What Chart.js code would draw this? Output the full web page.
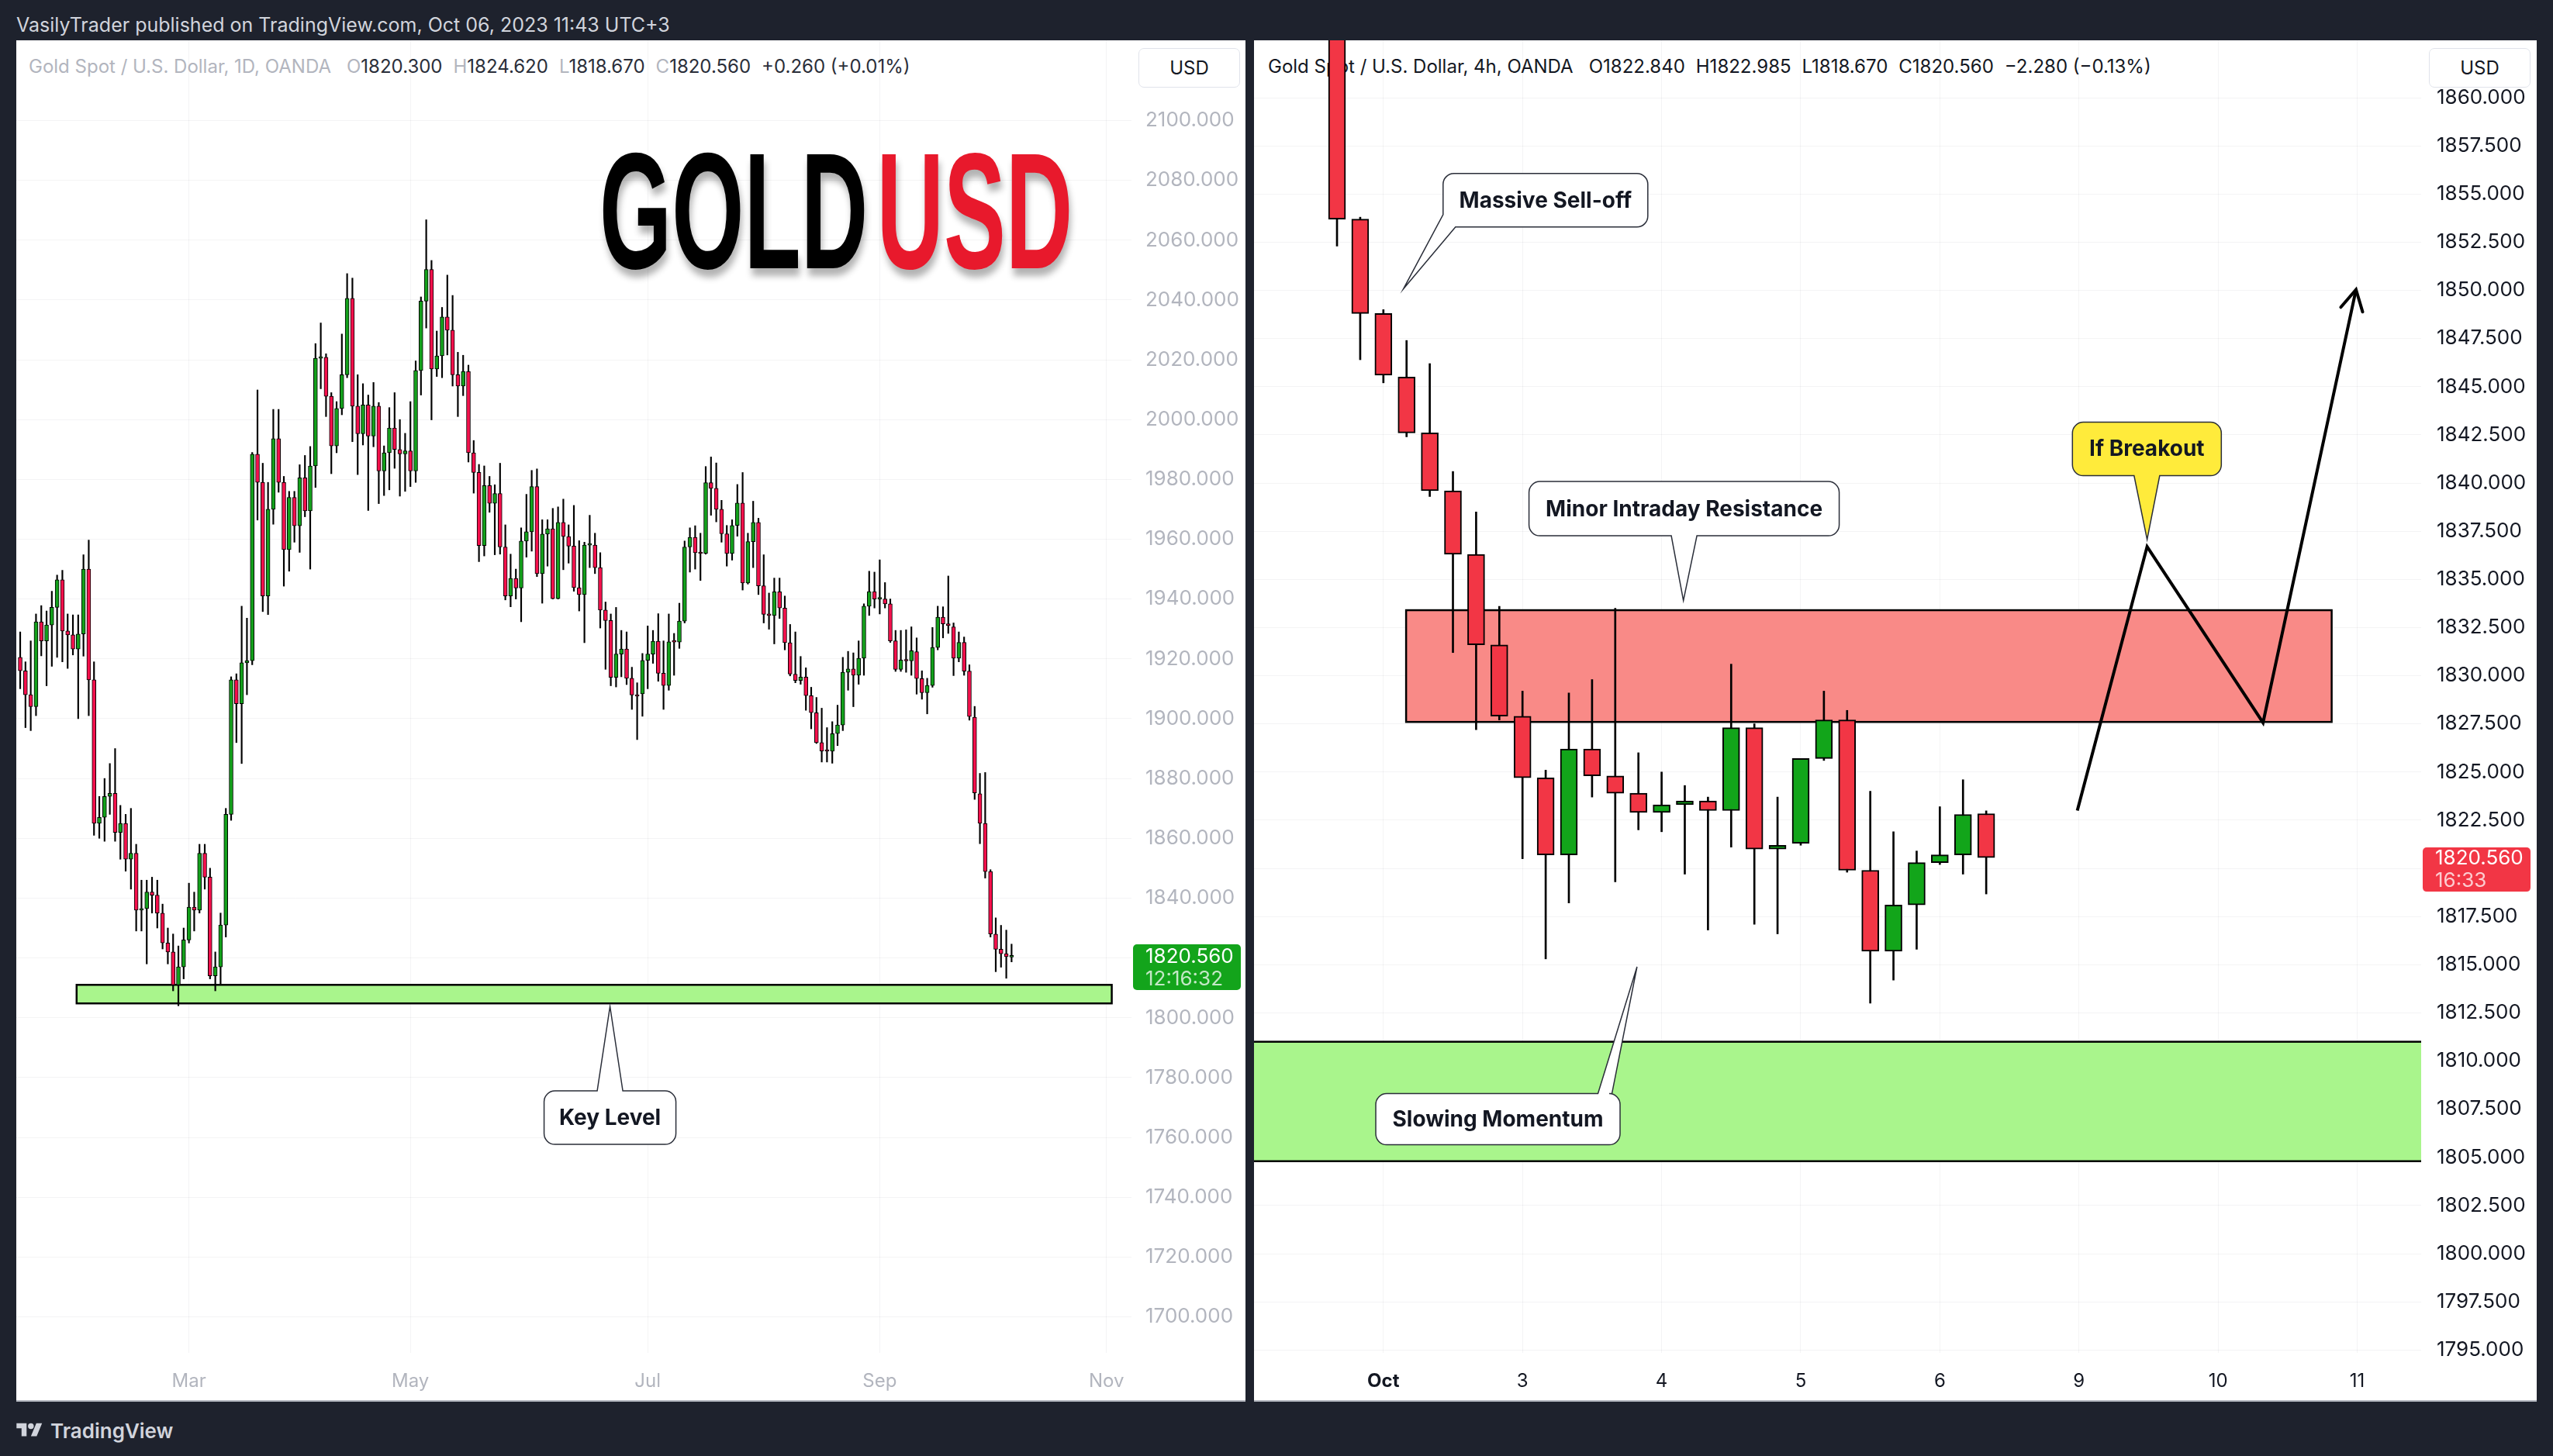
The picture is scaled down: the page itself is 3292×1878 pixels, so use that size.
<!DOCTYPE html>
<html lang="en">
<head>
<meta charset="utf-8">
<title>Gold Spot / U.S. Dollar</title>
<script src="https://cdn.jsdelivr.net/npm/chart.js@4.4.1/dist/chart.umd.min.js"></script>
<style>
html, body { margin: 0; padding: 0; }
body { width: 3292px; height: 1878px; background: #1e222d; position: relative; overflow: hidden; font-family: Inter, "Noto Sans", sans-serif; }
#header { position: absolute; left: 21px; top: 17px; font-size: 25px; line-height: 30px; color: #d1d4dc; white-space: nowrap; }
.panel { position: absolute; top: 52px; height: 1756px; background: #fff; overflow: hidden; }
#leftPanel { left: 21px; width: 1585px; }
#rightPanel { left: 1617px; width: 1654px; }
.panel canvas { position: absolute; left: 0; top: 0; z-index: 2; }
.baseLine { position: absolute; left: 0; right: 0; bottom: 0; height: 2px; background: #b2b5be; z-index: 3; }
.legend { position: absolute; top: 19px; font-size: 24px; line-height: 30px; white-space: nowrap; z-index: 1; }
.legend span { margin-left: 14px; }
.legend span.ttl { margin-left: 0; margin-right: 6px; }
.legend i { font-style: normal; }
#legL { left: 16px; color: #2a2e39; }
#legL .ttl, #legL i { color: #b2b5be; }
#legR { left: 18px; color: #131722; }
.curBox { position: absolute; top: 10px; width: 131px; height: 51px; border: 1px solid #e0e3eb; border-radius: 7px; background: #fff; font-size: 24px; line-height: 49px; text-align: center; color: #131722; z-index: 3; box-sizing: border-box; }
#curL { left: 1447px; }
#curR { left: 1515px; }
#bigTitle { position: absolute; left: 752px; top: 113px; font-family: "Liberation Sans Narrow", "Liberation Sans", sans-serif; font-weight: 700; font-size: 214px; line-height: 214px; white-space: nowrap; transform-origin: 0 0; transform: scaleX(0.56); text-shadow: 4px 10px 12px rgba(0,0,0,0.3); color: #000; z-index: 3; }
#bigTitle .red { color: #e8192c; margin-left: 20px; }
#footer { position: absolute; left: 21px; top: 1828px; height: 34px; display: flex; align-items: center; color: #d1d4dc; font-size: 26px; font-weight: 600; }
#footer svg { margin-right: 10px; }
</style>
</head>
<body>
<div id="header">VasilyTrader published on TradingView.com, Oct 06, 2023 11:43 UTC+3</div>

<div class="panel" id="leftPanel">
  <div class="legend" id="legL"><span class="ttl">Gold Spot / U.S. Dollar, 1D, OANDA</span><span><i>O</i>1820.300</span><span><i>H</i>1824.620</span><span><i>L</i>1818.670</span><span><i>C</i>1820.560</span><span>+0.260 (+0.01%)</span></div>
  <canvas id="chartDay" width="1585" height="1756" style="width:1585px;height:1756px"></canvas>
  <div class="curBox" id="curL">USD</div>
  <div id="bigTitle">GOLD<span class="red">USD</span></div>
  <div class="baseLine"></div>
</div>

<div class="panel" id="rightPanel">
  <div class="legend" id="legR"><span class="ttl">Gold Spot / U.S. Dollar, 4h, OANDA</span><span>O1822.840</span><span>H1822.985</span><span>L1818.670</span><span>C1820.560</span><span>−2.280 (−0.13%)</span></div>
  <canvas id="chartH4" width="1654" height="1756" style="width:1654px;height:1756px"></canvas>
  <div class="curBox" id="curR">USD</div>
  <div class="baseLine"></div>
</div>

<div id="footer">
  <svg width="34" height="26" viewBox="0 0 36 28"><path fill="#d1d4dc" d="M14 22H7V11H0V4h14v18zM28 22h-8l7.5-18h8L28 22z"/><circle cx="20" cy="8" r="4" fill="#d1d4dc"/></svg>
  TradingView
</div>

<script>
Chart.defaults.font.family = 'Inter, "Noto Sans", sans-serif';

// daily bars, index 0 = Jan 16 2023 ... index 188 = Oct 6 2023
const dayOpen = [
  1920.5, 1916, 1908, 1904, 1932.4, 1926, 1931.3, 1937.2, 1946.4, 1929.3,
  1928, 1923.3, 1928.3, 1950, 1913, 1865, 1867, 1874, 1875, 1862,
  1865, 1853, 1855, 1836, 1836.5, 1842, 1841, 1835, 1825, 1822,
  1811, 1817, 1826, 1837, 1836, 1855, 1847, 1814, 1817, 1831,
  1868, 1913, 1905, 1918.7, 1919.4, 1988.4, 1979, 1941, 1970, 1993.6,
  1979, 1956.5, 1974, 1964.5, 1980.5, 1969.5, 1984.5, 2020.5, 2020.8, 2007.8,
  1991.2, 2003.7, 2015, 2040.5, 2004.5, 1995.3, 2004.9, 1994.5, 2004.5, 1982.8,
  1988.9, 1997.2, 1990, 1988.5, 1989.5, 1982.8, 2016.4, 2039.6, 2050.2, 2016.9,
  2021.3, 2034.3, 2029.9, 2015, 2011.2, 2016.1, 1988.9, 1982.3, 1957.9, 1977.9,
  1972, 1975.3, 1957.4, 1941, 1946.9, 1943.7, 1959.4, 1962.5, 1977.6, 1948.5,
  1961.7, 1963.5, 1940.1, 1965.6, 1960.9, 1957.7, 1943.8, 1941.5, 1958, 1958,
  1950.5, 1936.3, 1932.8, 1913.8, 1921.6, 1923.3, 1913.5, 1907.9, 1908.3, 1919.5,
  1921.6, 1925.9, 1915.2, 1911.1, 1925.7, 1925.6, 1932.6, 1957.4, 1960.6, 1955.5,
  1955.2, 1978.9, 1977, 1970, 1961.8, 1955.2, 1964.6, 1972.1, 1945.4, 1959.2,
  1965.6, 1944.4, 1934.9, 1934.5, 1942.4, 1937, 1925.4, 1914.9, 1912.8, 1913.9,
  1907.7, 1902, 1892, 1889.2, 1889.1, 1895, 1897.9, 1915.5, 1916.6, 1914.5,
  1920.2, 1937.6, 1942.5, 1940, 1940, 1938.4, 1926, 1916.5, 1919.6, 1919.3,
  1922.4, 1913.4, 1908.7, 1911.1, 1923.8, 1933.9, 1931.7, 1930.7, 1920.2, 1925.5,
  1915.9, 1900.5, 1874.9, 1865, 1848.9, 1828, 1822.9, 1821.4, 1820.3
];
const dayHigh = [
  1929, 1919, 1926, 1935, 1937.8, 1936, 1942.6, 1948, 1949.6, 1935,
  1934.7, 1934.7, 1954.8, 1959.7, 1919, 1874, 1880, 1885, 1890, 1871,
  1868, 1870, 1858, 1846, 1846, 1847, 1846, 1838, 1830, 1828,
  1824, 1830, 1845, 1842, 1858, 1858, 1850, 1822, 1835, 1870,
  1914, 1915, 1937.6, 1933.6, 1989, 2009.9, 1985.4, 1979, 2003.4, 2003.4,
  1981, 1976, 1976, 1984.9, 1988, 1991, 2025.4, 2032.3, 2022, 2009,
  2006, 2028.6, 2048.8, 2047.3, 2015, 2012, 2008.2, 2012.4, 2005.7, 1991.2,
  2004, 2009, 2000, 1995.4, 2006, 2019.6, 2041, 2066.8, 2053.2, 2029.6,
  2037.5, 2048.3, 2041.5, 2022.5, 2021.5, 2018.2, 1993, 1985, 1984.5, 1981,
  1978.2, 1985.4, 1964.8, 1955, 1950, 1963.8, 1975, 1983, 1983.5, 1966.5,
  1966.5, 1970.3, 1970.8, 1973.4, 1964.8, 1971.3, 1959.5, 1959, 1968, 1962,
  1955.5, 1939, 1935, 1937.2, 1929.5, 1929, 1917.2, 1912, 1921.8, 1931,
  1929.5, 1935.1, 1926, 1935, 1928.5, 1938.6, 1959.4, 1963.8, 1964.5, 1962,
  1984.3, 1987.5, 1985.5, 1973, 1964.6, 1966.5, 1978.3, 1982.3, 1962, 1972.7,
  1967, 1954.8, 1942, 1947, 1947, 1941, 1931.5, 1929, 1920.8, 1917,
  1910.5, 1907.1, 1903.5, 1897, 1899, 1904.5, 1920.5, 1922.5, 1922, 1926,
  1938.4, 1949.3, 1949, 1953.1, 1945.5, 1940, 1929.5, 1929.5, 1929.7, 1930.7,
  1927, 1916, 1913.5, 1930.5, 1937.6, 1937.4, 1947.7, 1932, 1929, 1927.3,
  1918, 1904.1, 1881.7, 1882, 1849.5, 1833.4, 1830.9, 1829.3, 1824.62
];
const dayLow = [
  1910, 1897, 1896, 1901, 1921, 1911, 1917.5, 1920.5, 1919, 1916.8,
  1921.3, 1900, 1920.9, 1901, 1861, 1860, 1859, 1868, 1859, 1853,
  1849, 1843, 1829, 1829, 1818, 1835, 1830, 1823, 1818, 1809,
  1804, 1813, 1825, 1829, 1835, 1843, 1813, 1809, 1811, 1827,
  1866, 1892, 1885, 1908, 1918, 1966.4, 1935.8, 1934.8, 1965, 1975.7,
  1944.3, 1949.3, 1959, 1955.6, 1967.5, 1950, 1977.3, 2010.3, 2001, 1981.9,
  1988.9, 2001.6, 2014, 1992.6, 1981.6, 1991.5, 1969.6, 1990.9, 1971.9, 1974.6,
  1976.5, 1983.7, 1974.4, 1976, 1977.6, 1979, 2008.2, 2030.6, 1999.9, 2014.4,
  2014, 2021.6, 2011.2, 2001, 2008, 1985.8, 1975.4, 1952.5, 1954.4, 1969,
  1954.8, 1955, 1939.7, 1937.4, 1940, 1932.4, 1954, 1956, 1947.5, 1938.6,
  1951, 1940, 1940, 1949.8, 1952, 1942.6, 1936, 1925.4, 1950.5, 1948.5,
  1930.3, 1916.5, 1911, 1910.6, 1914, 1911.4, 1903.1, 1893, 1900.8, 1910,
  1918.5, 1912.5, 1903.1, 1909.5, 1914.5, 1923.5, 1932, 1949, 1950, 1946.2,
  1955, 1968, 1965.8, 1959, 1951, 1953, 1961, 1943, 1945, 1950.5,
  1941.5, 1932, 1929.9, 1925, 1933.5, 1923, 1914.3, 1912, 1911.5, 1902.8,
  1896.6, 1891.7, 1885.5, 1885.5, 1885.1, 1891, 1896, 1909.5, 1904, 1911.5,
  1914.5, 1934.5, 1937, 1935, 1937, 1925.5, 1915.8, 1915.8, 1915.5, 1914.5,
  1908.2, 1906.5, 1901.6, 1910.5, 1923, 1927, 1928.5, 1914.4, 1919, 1914.5,
  1899.5, 1873, 1858.2, 1846.7, 1827, 1815.4, 1816.9, 1813.2, 1818.67
];
const dayClose = [
  1916, 1908, 1904, 1932.4, 1926, 1931.3, 1937.2, 1946.4, 1929.3, 1928,
  1923.3, 1928.3, 1950, 1913, 1865, 1867, 1874, 1875, 1862, 1865,
  1853, 1855, 1836, 1836.5, 1842, 1841, 1835, 1825, 1822, 1811,
  1817, 1826, 1837, 1836, 1855, 1847, 1814, 1817, 1831, 1868,
  1913, 1905, 1918.7, 1919.4, 1988.4, 1979, 1941, 1970, 1993.6, 1979,
  1956.5, 1974, 1964.5, 1980.5, 1969.5, 1984.5, 2020.5, 2020.8, 2007.8, 1991.2,
  2003.7, 2015, 2040.5, 2004.5, 1995.3, 2004.9, 1994.5, 2004.5, 1982.8, 1988.9,
  1997.2, 1990, 1988.5, 1989.5, 1982.8, 2016.4, 2039.6, 2050.2, 2016.9, 2021.3,
  2034.3, 2029.9, 2015, 2011.2, 2016.1, 1988.9, 1982.3, 1957.9, 1977.9, 1972,
  1975.3, 1957.4, 1941, 1946.9, 1943.7, 1959.4, 1962.5, 1977.6, 1948.5, 1961.7,
  1963.5, 1940.1, 1965.6, 1960.9, 1957.7, 1943.8, 1941.5, 1958, 1958, 1950.5,
  1936.3, 1932.8, 1913.8, 1921.6, 1923.3, 1913.5, 1907.9, 1907.5, 1919.5, 1921.6,
  1925.9, 1915.2, 1911.1, 1925.7, 1925.6, 1932.6, 1957.4, 1960.6, 1955.5, 1955.2,
  1978.9, 1977, 1970, 1961.8, 1955.2, 1964.6, 1972.1, 1945.4, 1959.2, 1965.6,
  1944.4, 1934.9, 1934.5, 1942.4, 1937, 1925.4, 1914.9, 1912.8, 1913.9, 1907.7,
  1902, 1892, 1889.2, 1889.1, 1895, 1897.9, 1915.5, 1916.6, 1914.5, 1920.2,
  1937.6, 1942.5, 1940, 1940.1, 1938.4, 1926, 1916.5, 1919.6, 1919.3, 1922.7,
  1913.4, 1908.7, 1911.1, 1923.8, 1933.9, 1931.7, 1931.1, 1920.2, 1925.5, 1915.9,
  1900.7, 1875.2, 1865, 1848.9, 1828, 1822.9, 1821.4, 1820.4, 1820.56
];
const dayTimeTicks = [32, 74, 119, 163, 206];
const dayTimeLabels = ['Mar', 'May', 'Jul', 'Sep', 'Nov'];
const dayPriceTicks = [1700, 1720, 1740, 1760, 1780, 1800, 1820, 1840, 1860, 1880, 1900,
  1920, 1940, 1960, 1980, 2000, 2020, 2040, 2060, 2080, 2100];

// 4h bars, index 0 = Sep 29 ... index 28 = Oct 6 (six bars a day)
const h4Open = [1866.5, 1853.7, 1848.8, 1845.5, 1842.6, 1839.6, 1836.3, 1831.6, 1827.9, 1824.7,
  1820.7, 1826.2, 1824.8, 1823.9, 1822.9, 1823.3, 1823.5, 1823.0, 1827.3, 1821.0,
  1821.3, 1825.7, 1827.7, 1819.9, 1815.7, 1818.1, 1820.3, 1820.7, 1822.84];
const h4High = [1868.0, 1853.8, 1849.0, 1847.4, 1846.2, 1840.6, 1838.5, 1833.6, 1829.2, 1825.1,
  1829.1, 1829.8, 1833.5, 1826.0, 1825.0, 1824.3, 1823.7, 1830.6, 1827.5, 1823.7,
  1825.7, 1829.2, 1828.2, 1824.0, 1821.9, 1820.9, 1823.2, 1824.6, 1822.985];
const h4Low = [1852.3, 1846.4, 1845.2, 1842.4, 1839.3, 1831.2, 1827.2, 1827.7, 1820.5, 1815.3,
  1818.2, 1823.7, 1819.3, 1822.0, 1821.9, 1819.7, 1816.8, 1821.1, 1817.1, 1816.6,
  1821.2, 1825.6, 1819.8, 1813.0, 1814.2, 1815.8, 1820.2, 1819.7, 1818.67];
const h4Close = [1853.7, 1848.8, 1845.6, 1842.6, 1839.6, 1836.3, 1831.6, 1827.9, 1824.7, 1820.7,
  1826.2, 1824.8, 1823.9, 1822.9, 1823.3, 1823.5, 1823.0, 1827.3, 1821.0, 1821.2,
  1825.7, 1827.7, 1819.9, 1815.7, 1818.1, 1820.3, 1820.7, 1822.8, 1820.56];
const h4TimeTicks = [2, 8, 14, 20, 26, 32, 38, 44];
const h4TimeLabels = ['Oct', '3', '4', '5', '6', '9', '10', '11'];
const h4PriceTicks = [1795, 1797.5, 1800, 1802.5, 1805, 1807.5, 1810, 1812.5, 1815, 1817.5,
  1820, 1822.5, 1825, 1827.5, 1830, 1832.5, 1835, 1837.5, 1840, 1842.5,
  1845, 1847.5, 1850, 1852.5, 1855, 1857.5, 1860];

// levels and the projected path drawn on the charts
const keyLevel = [1804.8, 1811.0];
const resistance = [1827.6, 1833.4];
const pathX = [31.93, 34.94, 39.94, 43.95];
const pathY = [1823.0, 1836.7, 1827.56, 1850.04];
const lastPrice = 1820.56;

const AXIS_FONT = 26;

function candleSets(open, high, low, close, up, down, bodyW, wickW, border) {
  const wicks = [], bodies = [], colors = [];
  for (let i = 0; i < open.length; i++) {
    wicks.push({ x: i, y: [low[i], high[i]] });
    bodies.push({ x: i, y: [open[i], close[i]] });
    colors.push(close[i] >= open[i] ? up : down);
  }
  return [
    { type: 'bar', label: 'wick', data: wicks, backgroundColor: '#000', barThickness: wickW, grouped: false, order: 3 },
    { type: 'bar', label: 'body', data: bodies, backgroundColor: colors, borderColor: '#000', borderWidth: border,
      borderSkipped: false, barThickness: bodyW, minBarLength: 2, grouped: false, order: 2 }
  ];
}

function roundRect(ctx, x, y, w, h, r) {
  ctx.beginPath();
  ctx.moveTo(x + r, y);
  ctx.arcTo(x + w, y, x + w, y + h, r);
  ctx.arcTo(x + w, y + h, x, y + h, r);
  ctx.arcTo(x, y + h, x, y, r);
  ctx.arcTo(x, y, x + w, y, r);
  ctx.closePath();
}

function drawCallout(ctx, xs, ys, c) {
  const cx = xs.getPixelForValue(c.x), cy = ys.getPixelForValue(c.y);
  const tx = xs.getPixelForValue(c.tipX), ty = ys.getPixelForValue(c.tipY);
  const L = cx - c.w / 2, R = cx + c.w / 2, T = cy - c.h / 2, B = cy + c.h / 2, r = 14;
  const bx = cx + (c.dx || 0);
  ctx.beginPath();
  ctx.moveTo(L + r, T);
  if (c.tail === 'top') { ctx.lineTo(bx - c.hw, T); ctx.lineTo(tx, ty); ctx.lineTo(bx + c.hw, T); }
  ctx.lineTo(R - r, T);
  ctx.arcTo(R, T, R, T + r, r);
  ctx.lineTo(R, B - r);
  ctx.arcTo(R, B, R - r, B, r);
  if (c.tail === 'bottom') { ctx.lineTo(bx + c.hw, B); ctx.lineTo(tx, ty); ctx.lineTo(bx - c.hw, B); }
  if (c.tail === 'bl') {
    ctx.lineTo(L + c.hw, B); ctx.lineTo(tx, ty); ctx.lineTo(L, B - c.hw);
  } else {
    ctx.lineTo(L + r, B);
    ctx.arcTo(L, B, L, B - r, r);
  }
  ctx.lineTo(L, T + r);
  ctx.arcTo(L, T, L + r, T, r);
  ctx.closePath();
  ctx.fillStyle = c.fill || '#fff';
  ctx.fill();
  ctx.lineWidth = 1.5;
  ctx.strokeStyle = '#2a2e39';
  ctx.stroke();
  ctx.fillStyle = '#131722';
  ctx.font = '700 28px Inter, "Noto Sans", sans-serif';
  ctx.textAlign = 'center';
  ctx.textBaseline = 'middle';
  ctx.fillText(c.text, cx, cy + 1);
}

function drawings(cfg) {
  return {
    id: 'drawings',
    beforeDatasetsDraw(chart) {
      const { ctx, chartArea: a, scales: { x, y } } = chart;
      ctx.save();
      ctx.beginPath();
      ctx.rect(a.left, a.top, a.right - a.left, a.bottom - a.top);
      ctx.clip();
      cfg.zones.forEach(z => {
        const x1 = x.getPixelForValue(z.from), x2 = x.getPixelForValue(z.to);
        const y1 = y.getPixelForValue(z.top), y2 = y.getPixelForValue(z.bottom);
        ctx.fillStyle = z.color;
        ctx.fillRect(x1, y1, x2 - x1, y2 - y1);
        ctx.lineWidth = 2.5;
        ctx.strokeStyle = '#000';
        ctx.strokeRect(x1, y1, x2 - x1, y2 - y1);
      });
      ctx.restore();
    },
    afterDatasetsDraw(chart) {
      const { ctx, scales: { x, y } } = chart;
      ctx.save();
      if (cfg.arrow) {
        const n = cfg.arrow.x.length;
        const px = x.getPixelForValue(cfg.arrow.x[n - 1]), py = y.getPixelForValue(cfg.arrow.y[n - 1]);
        const qx = x.getPixelForValue(cfg.arrow.x[n - 2]), qy = y.getPixelForValue(cfg.arrow.y[n - 2]);
        const ang = Math.atan2(qy - py, qx - px);
        ctx.strokeStyle = '#000';
        ctx.lineWidth = 4;
        ctx.lineCap = 'round';
        ctx.beginPath();
        ctx.moveTo(px + 30 * Math.cos(ang + 0.5), py + 30 * Math.sin(ang + 0.5));
        ctx.lineTo(px, py);
        ctx.lineTo(px + 30 * Math.cos(ang - 0.5), py + 30 * Math.sin(ang - 0.5));
        ctx.stroke();
      }
      cfg.callouts.forEach(c => drawCallout(ctx, x, y, c));
      ctx.restore();
    },
    afterDraw(chart) {
      const { ctx, scales: { y } } = chart;
      const t = cfg.tag;
      const py = y.getPixelForValue(t.price);
      ctx.save();
      ctx.fillStyle = t.color;
      roundRect(ctx, t.x, py + t.dy, t.w, t.h, 5);
      ctx.fill();
      ctx.font = AXIS_FONT + 'px Inter, "Noto Sans", sans-serif';
      ctx.textAlign = 'left';
      ctx.textBaseline = 'middle';
      ctx.fillStyle = '#fff';
      ctx.fillText(t.main, t.x + 16, py + 1);
      ctx.fillStyle = 'rgba(255,255,255,0.75)';
      ctx.fillText(t.sub, t.x + 16, py + 30);
      ctx.restore();
    }
  };
}

function makeChart(id, o) {
  return new Chart(document.getElementById(id), {
    type: 'bar',
    data: { datasets: o.datasets },
    options: {
      responsive: false,
      animation: false,
      devicePixelRatio: 1,
      layout: { padding: 0 },
      plugins: { legend: { display: false }, tooltip: { enabled: false } },
      scales: {
        x: {
          type: 'linear', min: o.xMin, max: o.xMax, offset: false,
          grid: { color: 'rgba(42,46,57,0.05)', drawTicks: false, offset: false },
          border: { display: false },
          ticks: {
            autoSkip: false, maxRotation: 0, padding: 22, color: o.tickColor, font: o.xFont,
            callback: v => o.timeLabels[o.timeTicks.indexOf(v)]
          },
          afterBuildTicks: s => { s.ticks = o.timeTicks.map(v => ({ value: v })); },
          afterFit: s => { s.height = 63; s.paddingLeft = 0; s.paddingRight = 0; s.paddingTop = 0; s.paddingBottom = 0; }
        },
        y: {
          type: 'linear', position: 'right', min: o.yMin, max: o.yMax,
          grid: { color: 'rgba(42,46,57,0.05)', drawTicks: false },
          border: { display: false },
          ticks: {
            autoSkip: false, crossAlign: 'near', padding: o.yPad, color: o.tickColor, font: { size: AXIS_FONT },
            callback: v => v.toFixed(3)
          },
          afterBuildTicks: s => { s.ticks = o.priceTicks.map(v => ({ value: v })); },
          afterFit: s => { s.width = o.axisW; s.paddingLeft = 0; s.paddingRight = 0; s.paddingTop = 0; s.paddingBottom = 0; }
        }
      }
    },
    plugins: [drawings(o.draw)]
  });
}

// daily chart
makeChart('chartDay', {
  datasets: candleSets(dayOpen, dayHigh, dayLow, dayClose, '#13a01b', '#f5104c', 5, 1.5, 1),
  xMin: -0.74, xMax: 210.74, yMin: 1687.95, yMax: 2126.8,
  timeTicks: dayTimeTicks, timeLabels: dayTimeLabels, priceTicks: dayPriceTicks,
  tickColor: '#b2b5be', xFont: { size: 24 }, yPad: 18, axisW: 147,
  draw: {
    zones: [{ from: 10.7, to: 207, top: keyLevel[1], bottom: keyLevel[0], color: '#a9f58c' }],
    callouts: [
      { text: 'Key Level', x: 111.85, y: 1766.6, w: 170, h: 69, tipX: 111.85, tipY: 1803.76, tail: 'top', dx: 0, hw: 16.5 }
    ],
    tag: { price: lastPrice, main: '1820.560', sub: '12:16:32', color: '#13a41b', x: 1440, w: 139, dy: -15.5, h: 59 }
  }
});

// 4h chart
const h4Sets = candleSets(h4Open, h4High, h4Low, h4Close, '#12a51a', '#f23645', 22, 2, 2);
h4Sets.push({
  type: 'line', label: 'path', data: pathX.map((v, i) => ({ x: v, y: pathY[i] })),
  borderColor: '#000', borderWidth: 4, pointRadius: 0, tension: 0, fill: false, order: 1
});
makeChart('chartH4', {
  datasets: h4Sets,
  xMin: -3.58, xMax: 46.76, yMin: 1794.85, yMax: 1862.98,
  timeTicks: h4TimeTicks, timeLabels: h4TimeLabels, priceTicks: h4PriceTicks,
  tickColor: '#131722', yPad: 20, axisW: 149,
  xFont: c => ({ size: 24, weight: c.tick && c.tick.value === 2 ? '700' : '400' }),
  draw: {
    zones: [
      { from: -10, to: 60, top: keyLevel[1], bottom: keyLevel[0], color: '#a9f58c' },
      { from: 2.98, to: 42.9, top: resistance[1], bottom: resistance[0], color: '#f98a87' }
    ],
    arrow: { x: pathX, y: pathY },
    callouts: [
      { text: 'Massive Sell-off', x: 8.99, y: 1854.68, w: 264, h: 69, tipX: 2.86, tipY: 1850.07, tail: 'bl', hw: 16 },
      { text: 'Minor Intraday Resistance', x: 14.97, y: 1838.67, w: 400, h: 70, tipX: 14.94, tipY: 1833.9, tail: 'bottom', dx: 0, hw: 16.5 },
      { text: 'If Breakout', x: 34.93, y: 1841.77, w: 192, h: 69, tipX: 34.94, tipY: 1837.07, tail: 'bottom', dx: 0, hw: 16.5, fill: '#ffeb3b' },
      { text: 'Slowing Momentum', x: 6.94, y: 1806.98, w: 315, h: 66, tipX: 12.94, tipY: 1814.89, tail: 'top', dx: 138, hw: 9 }
    ],
    tag: { price: lastPrice, main: '1820.560', sub: '16:33', color: '#f23645', x: 1507, w: 139, dy: -13, h: 57 }
  }
});
</script>
</body>
</html>
